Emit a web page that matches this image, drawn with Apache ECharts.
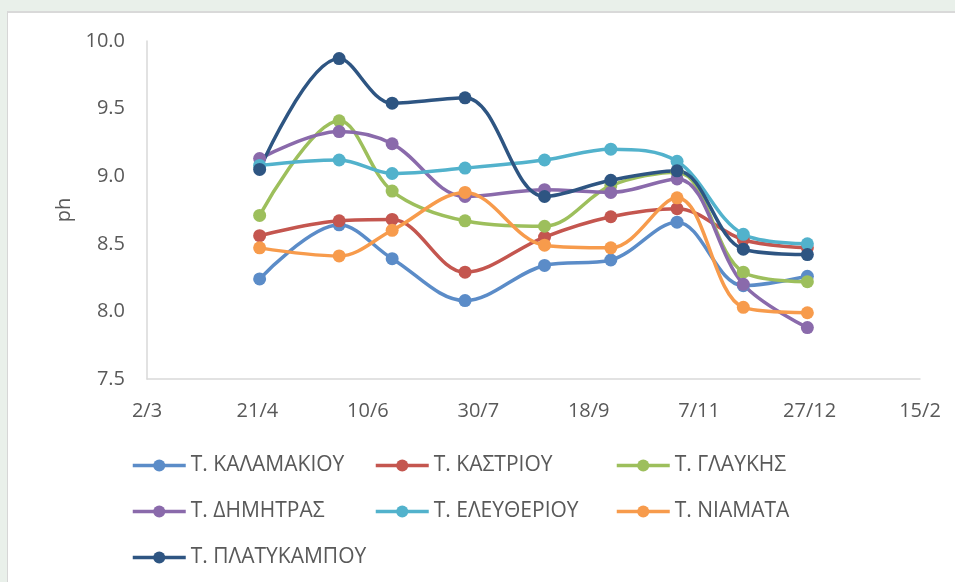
<!DOCTYPE html>
<html>
<head>
<meta charset="utf-8">
<script src="https://cdn.jsdelivr.net/npm/echarts@6/dist/echarts.min.js"></script>
<style>
  html, body { margin: 0; padding: 0; background: #e9f0ea; }
  #frame { position: absolute; left: 7px; top: 11px; width: 948px; height: 571px;
           background: #fff; border-left: 1px solid #d6d6d6; border-top: 2px solid #d9d9d9; box-sizing: border-box; }
  #chart { position: absolute; left: 0; top: 0; width: 955px; height: 582px; }
</style>
</head>
<body>
<div id="frame"></div>
<div id="chart"></div>
<script>
const startDate = '2015-03-02';
const sampleDates = ['2015-04-22', '2015-05-28', '2015-06-21', '2015-07-24', '2015-08-29',
                     '2015-09-28', '2015-10-28', '2015-11-27', '2015-12-26'];

const names = ['Τ. ΚΑΛΑΜΑΚΙΟΥ', 'Τ. ΚΑΣΤΡΙΟΥ', 'Τ. ΓΛΑΥΚΗΣ', 'Τ. ΔΗΜΗΤΡΑΣ',
               'Τ. ΕΛΕΥΘΕΡΙΟΥ', 'Τ. ΝΙΑΜΑΤΑ', 'Τ. ΠΛΑΤΥΚΑΜΠΟΥ'];
const kalamakiou  = [8.24, 8.64, 8.39, 8.08, 8.34, 8.38, 8.66, 8.19, 8.26];
const kastriou    = [8.56, 8.67, 8.68, 8.29, 8.55, 8.70, 8.76, 8.53, 8.47];
const glaukis     = [8.71, 9.41, 8.89, 8.67, 8.63, 8.93, 9.03, 8.29, 8.22];
const dimitras    = [9.13, 9.33, 9.24, 8.85, 8.90, 8.88, 8.98, 8.20, 7.88];
const eleftheriou = [9.08, 9.12, 9.02, 9.06, 9.12, 9.20, 9.11, 8.57, 8.50];
const niamata     = [8.47, 8.41, 8.60, 8.88, 8.49, 8.47, 8.84, 8.03, 7.99];
const platykampou = [9.05, 9.87, 9.54, 9.58, 8.85, 8.97, 9.04, 8.46, 8.42];

const colors = ['#5b8cc8', '#c4564f', '#9dbf5c', '#8a6aab', '#52b2cc', '#f79b4c', '#2e5582'];
const values = [kalamakiou, kastriou, glaukis, dimitras, eleftheriou, niamata, platykampou];

const DAY = 86400000;
const t0 = Date.parse(startDate);
const days = sampleDates.map(d => Math.round((Date.parse(d) - t0) / DAY));

const font = "'Open Sans', 'Noto Sans', sans-serif";
const grey = '#595959';

const chart = echarts.init(document.getElementById('chart'));

const series = names.map((name, i) => ({
  name,
  type: 'line',
  data: days.map((d, j) => [d, values[i][j]]),
  smooth: 0.35,
  symbol: 'circle',
  symbolSize: 13,
  lineStyle: { width: 3.5, color: colors[i] },
  itemStyle: { color: colors[i] }
}));

const legendBase = {
  orient: 'vertical',
  top: 455,
  padding: 0,
  itemWidth: 53,
  itemHeight: 15,
  itemGap: 25,
  lineStyle: { width: 3.5 },
  textStyle: { color: grey, fontSize: 21, fontFamily: font, lineHeight: 20 }
};

chart.setOption({
  animation: false,
  color: colors,
  grid: { left: 147, right: 35, top: 41, bottom: 203 },
  legend: [
    Object.assign({ left: 131, data: [names[0], names[3], names[6]] }, legendBase),
    Object.assign({ left: 374, data: [names[1], names[4]] }, legendBase),
    Object.assign({ left: 615, data: [names[2], names[5]] }, legendBase)
  ],
  xAxis: {
    type: 'value',
    min: 0,
    max: 350,
    interval: 50,
    axisLine: { lineStyle: { color: '#d9d9d9', width: 1.5 } },
    axisTick: { show: false },
    splitLine: { show: false },
    axisLabel: {
      color: grey, fontSize: 20, fontFamily: font, margin: 22,
      formatter: v => {
        const d = new Date(t0 + v * DAY);
        return d.getUTCDate() + '/' + (d.getUTCMonth() + 1);
      }
    }
  },
  yAxis: {
    type: 'value',
    min: 7.5,
    max: 10,
    interval: 0.5,
    name: 'ph',
    nameLocation: 'middle',
    nameGap: 72,
    nameRotate: 90,
    nameTextStyle: { color: grey, fontSize: 20, fontFamily: font },
    axisLine: { show: true, lineStyle: { color: '#d9d9d9', width: 1.5 } },
    axisTick: { show: false },
    splitLine: { show: false },
    axisLabel: {
      color: grey, fontSize: 20, fontFamily: font, margin: 22,
      formatter: v => v.toFixed(1)
    }
  },
  series
});
</script>
</body>
</html>
